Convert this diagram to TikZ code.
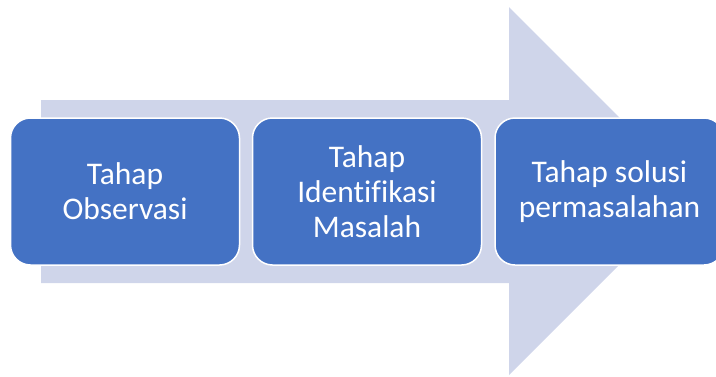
\documentclass[tikz,border=0pt]{standalone}
\usepackage{fontspec}
\setmainfont[Ligatures=NoCommon]{Carlito}
\definecolor{stepblue}{HTML}{4472C4}
\definecolor{arrowgray}{HTML}{CFD5EA}
\tikzset{
  stagebox/.style={draw=white, line width=1.5pt, fill=stepblue, rounded corners=20pt,
    minimum width=229pt, minimum height=147pt, text=white, align=center,
    font=\fontsize{31.5pt}{35pt}\selectfont, inner sep=0pt}
}
\begin{document}
\begin{tikzpicture}[x=1pt, y=-1pt]
        \useasboundingbox (0,0) rectangle (716,376);
        \coordinate (t1) at (41,100); \coordinate (t2) at (509,100); \coordinate (t3) at (509,7);
        \coordinate (tip) at (693,191); \coordinate (b3) at (509,375); \coordinate (b2) at (509,283); \coordinate (b1) at (41,283);
        \fill[arrowgray] (t1)--(t2)--(t3)--(tip)--(b3)--(b2)--(b1)--cycle;
        \node[stagebox] (obs) at (125,191.5) {Tahap\\Observasi};
        \node[stagebox] (ident) at (367,191.5) {Tahap\\Identifikasi\\Masalah};
        \node[stagebox] (solusi) at (609.5,191.5) {Tahap solusi\\permasalahan};
    \end{tikzpicture}
\end{document}
